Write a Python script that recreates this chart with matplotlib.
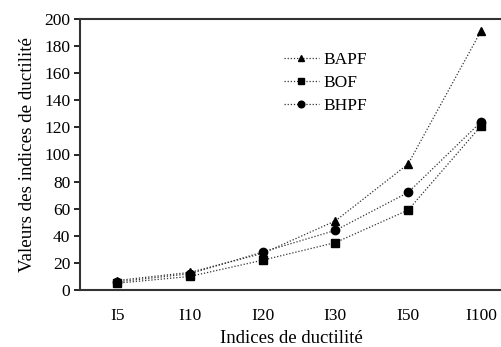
import matplotlib
matplotlib.use("Agg")
import matplotlib.pyplot as plt

categories = ["I5", "I10", "I20", "I30", "I50", "I100"]
bapf = [7, 13, 27, 51, 93, 191]
bof = [5, 10, 22, 35, 59, 121]
bhpf = [6, 12, 28, 44, 72, 124]
yticks = [0, 20, 40, 60, 80, 100, 120, 140, 160, 180, 200]

plt.rcParams['font.family'] = ['Liberation Serif', 'DejaVu Serif']

fig = plt.figure(figsize=(5.02, 3.47), dpi=100)
ax = fig.add_axes([80/502, 1-290/347, 1-80/502, 271/347])
x = list(range(len(categories)))
ls = (0, (1, 1.5))
ax.plot(x, bapf, linestyle=ls, color='#333333', lw=0.9, marker='^', ms=6, mfc='black', mec='black', label='BAPF')
ax.plot(x, bof, linestyle=ls, color='#333333', lw=0.9, marker='s', ms=6, mfc='black', mec='black', label='BOF')
ax.plot(x, bhpf, linestyle=ls, color='#333333', lw=0.9, marker='o', ms=6, mfc='black', mec='black', label='BHPF')

ax.set_xlim(-0.51, 5.29)
ax.set_ylim(0, 200)
ax.set_xticks(x)
ax.set_xticklabels(categories, fontsize=12.5)
ax.set_yticks(yticks)
ax.set_yticklabels([str(v) for v in yticks], fontsize=12.5)
ax.tick_params(axis='x', length=0, pad=13)
ax.tick_params(axis='y', length=4, width=1.2, direction='out', pad=3)
for s in ax.spines.values():
    s.set_linewidth(1.5)
    s.set_color('#333333')
ax.set_xlabel("Indices de ductilité", fontsize=13.5, labelpad=4)
ax.set_ylabel("Valeurs des indices de ductilité", fontsize=13.7, labelpad=6)

ax.legend(loc='upper left', bbox_to_anchor=(277/502, 1-45/347), bbox_transform=fig.transFigure,
          frameon=False, fontsize=12.5, handlelength=2.0, handletextpad=0.3, labelspacing=0.4,
          borderaxespad=0, markerscale=0.8)

fig.savefig("out.png", dpi=100)
